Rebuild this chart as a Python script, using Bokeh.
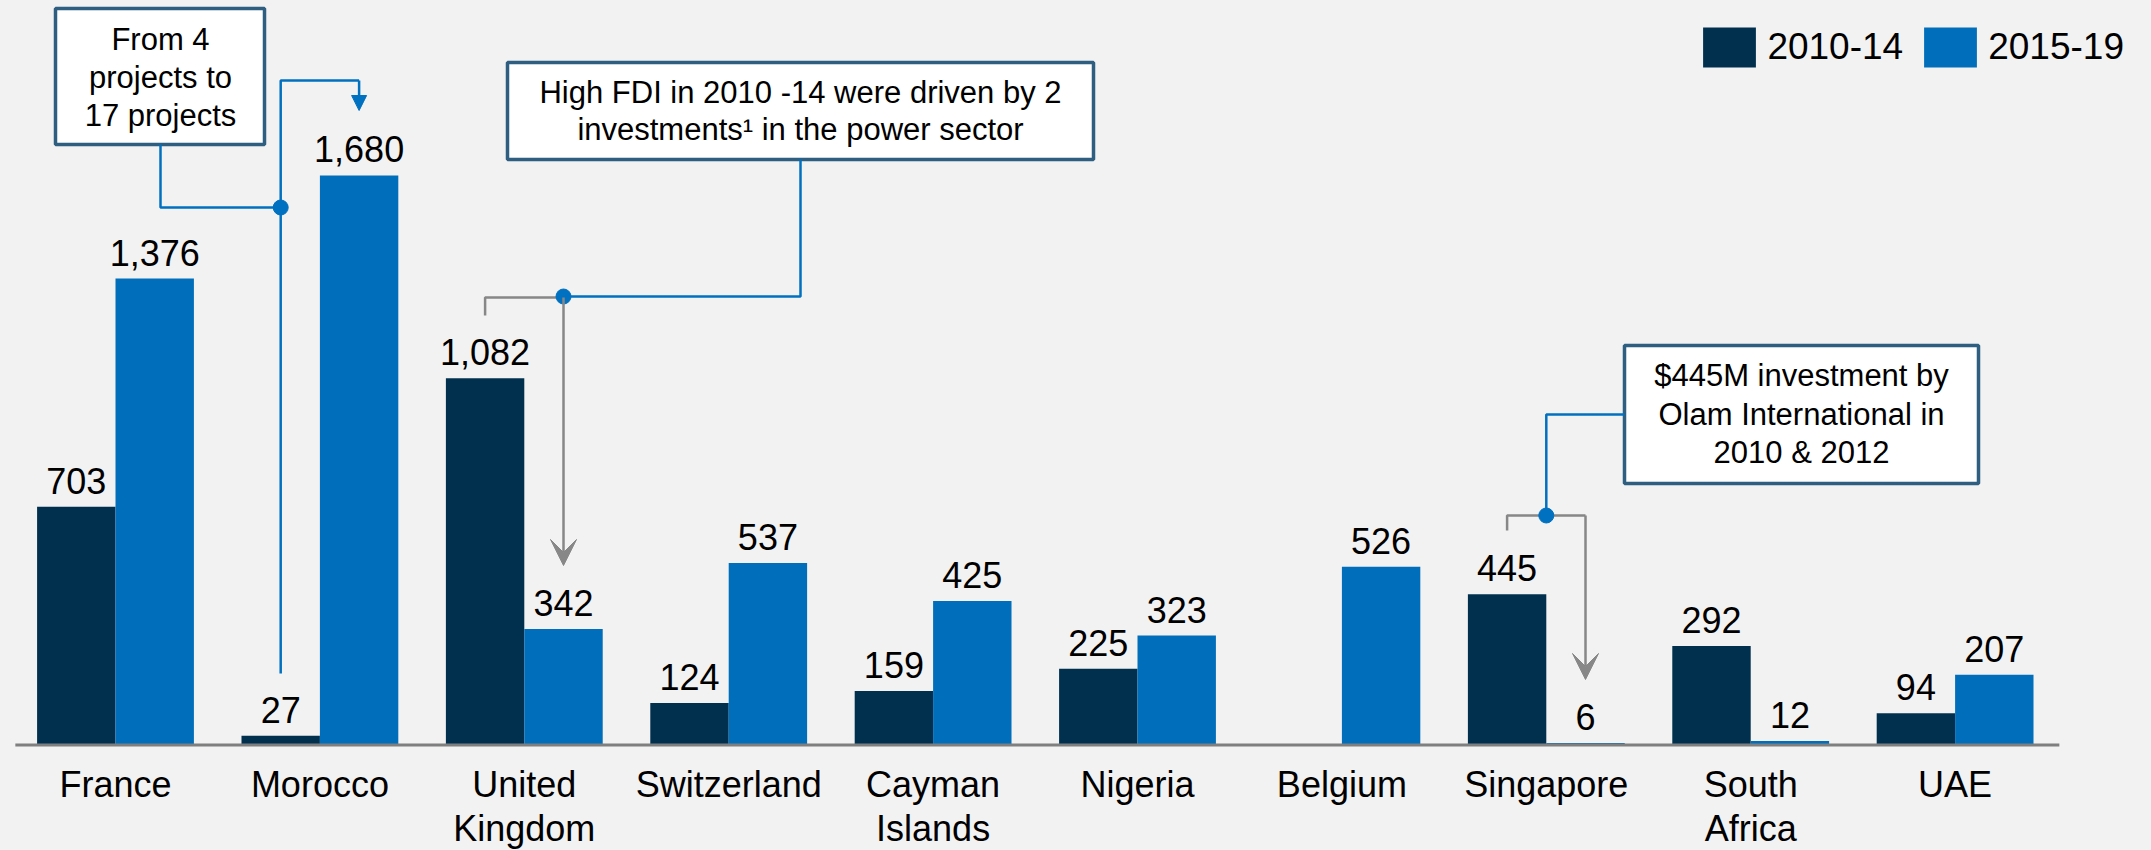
from bokeh.plotting import figure
from bokeh.models import Range1d, Arrow, NormalHead, VeeHead, Legend, LegendItem, ColumnDataSource
from bokeh.core.properties import value
from bokeh.embed import file_html
from bokeh.resources import INLINE

# ---------------- data ----------------
categories = ["France", "Morocco", "United\nKingdom", "Switzerland", "Cayman\nIslands",
              "Nigeria", "Belgium", "Singapore", "South\nAfrica", "UAE"]
series_names = ["2010-14", "2015-19"]
fdi_2010_14 = [703, 27, 1082, 124, 159, 225, None, 445, 292, 94]
fdi_2015_19 = [1376, 1680, 342, 537, 425, 323, 526, 6, 12, 207]

note_morocco = ["From 4", "projects to", "17 projects"]
note_uk = ["High FDI in 2010 -14 were driven by 2", "investments\u00b9 in the power sector"]
note_singapore = ["$445M investment by", "Olam International in", "2010 & 2012"]

# ---------------- style / layout ----------------
FONT = "Liberation Sans"
DARK = "#00304e"
BLUE = "#006eba"
LINE_BLUE = "#0070c0"
GRAY = "#878787"
BOX_LINE = "#2e5e80"
BG = "#f2f2f2"

W, H = 2151, 850
OFF = 0                 # page offset of the figure
PX_PER_CAT = 204.4      # screen px per category
X0_PX = 115.0           # screen px of first category centre
PX_PER_UNIT = 0.339     # screen px per $M
BASE_PX = 744.5         # screen px of the zero line
BW = 0.3836             # bar width (category units)
TXT = 11                # text baseline correction (px)


def sx(px):
    return (px - X0_PX) / PX_PER_CAT


def sy(py):
    return (BASE_PX - py) / PX_PER_UNIT


def ty(py):
    return sy(py - TXT)


p = figure(width=W, height=H, output_backend="svg", toolbar_location=None,
           x_axis_type=None, y_axis_type=None,
           x_range=Range1d(sx(OFF), sx(OFF + W)),
           y_range=Range1d(sy(OFF + H), sy(OFF)),
           min_border=0)
p.background_fill_color = BG
p.border_fill_color = BG
p.outline_line_color = None
p.grid.visible = False

n = len(categories)
idx = list(range(n))

# bars
d_idx = [i for i in idx if fdi_2010_14[i] is not None]
src_a = ColumnDataSource(dict(x=[i - BW / 2 for i in d_idx],
                              top=[fdi_2010_14[i] for i in d_idx],
                              lab=["{:,}".format(fdi_2010_14[i]) for i in d_idx]))
src_b = ColumnDataSource(dict(x=[i + BW / 2 for i in idx],
                              top=fdi_2015_19,
                              lab=["{:,}".format(v) for v in fdi_2015_19]))
r_a = p.vbar(x="x", top="top", bottom=0, width=BW, source=src_a, fill_color=DARK, line_color=None)
r_b = p.vbar(x="x", top="top", bottom=0, width=BW, source=src_b, fill_color=BLUE, line_color=None)

# value labels
GAP = (15 + TXT) / PX_PER_UNIT
for src in (src_a, src_b):
    src.data["ly"] = [t + GAP for t in src.data["top"]]
    p.text(x="x", y="ly", text="lab", source=src, text_align="center", text_baseline="alphabetic",
           text_font=value(FONT), text_font_size="36px", text_color="black")

# zero line
p.line(x=[-0.49, n - 0.49], y=[0, 0], line_color="#7f7f7f", line_width=3)

# category labels
line1 = [c.split("\n")[0] for c in categories]
line2 = [c.split("\n")[1] if "\n" in c else "" for c in categories]
p.text(x=idx, y=[ty(795)] * n, text=line1, text_align="center", text_baseline="alphabetic",
       text_font=value(FONT), text_font_size="36px", text_color="black")
p.text(x=idx, y=[ty(839)] * n, text=line2, text_align="center", text_baseline="alphabetic",
       text_font=value(FONT), text_font_size="36px", text_color="black")


def note_box(l, r, t, b, lines, cx, first_base, step):
    p.quad(left=[sx(l)], right=[sx(r)], top=[sy(t)], bottom=[sy(b)],
           fill_color="white", line_color=BOX_LINE, line_width=3.5)
    p.text(x=[sx(cx)] * len(lines), y=[ty(first_base + k * step) for k in range(len(lines))],
           text=lines, text_align="center", text_baseline="alphabetic",
           text_font=value(FONT), text_font_size="31px", text_color="black")


# --- Morocco callout ---
mor = categories.index("Morocco")
note_box(55, 264, 8, 144, note_morocco, 160, 50, 38)
p.line(x=[sx(160), sx(160), mor - BW / 2], y=[sy(144), sy(207), sy(207)], line_color=LINE_BLUE, line_width=2.5)
p.line(x=[mor - BW / 2, mor - BW / 2, mor + BW / 2], y=[sy(673), sy(80), sy(80)],
       line_color=LINE_BLUE, line_width=2.5)
p.add_layout(Arrow(end=NormalHead(size=15, fill_color=LINE_BLUE, line_color=LINE_BLUE),
                   x_start=mor + BW / 2, y_start=sy(80), x_end=mor + BW / 2, y_end=sy(110),
                   line_color=LINE_BLUE, line_width=2.5))
p.scatter(x=[mor - BW / 2], y=[sy(207)], size=15, color=LINE_BLUE)

# --- UK callout ---
uk = categories.index("United\nKingdom")
note_box(507, 1093, 62, 159, note_uk, 800, 103, 37)
p.line(x=[uk - BW / 2, uk - BW / 2, uk + BW / 2], y=[sy(315), sy(297), sy(297)], line_color=GRAY, line_width=2.5)
p.add_layout(Arrow(end=VeeHead(size=26, fill_color=GRAY, line_color=GRAY),
                   x_start=uk + BW / 2, y_start=sy(297), x_end=uk + BW / 2, y_end=sy(565),
                   line_color=GRAY, line_width=2.5))
p.line(x=[sx(800), sx(800), uk + BW / 2], y=[sy(159), sy(296), sy(296)], line_color=LINE_BLUE, line_width=2.5)
p.scatter(x=[uk + BW / 2], y=[sy(296)], size=15, color=LINE_BLUE)

# --- Singapore callout ---
sg = categories.index("Singapore")
note_box(1624, 1978, 345, 483, note_singapore, 1801, 386, 38.5)
p.line(x=[sg - BW / 2, sg - BW / 2, sg + BW / 2], y=[sy(530), sy(515), sy(515)], line_color=GRAY, line_width=2.5)
p.add_layout(Arrow(end=VeeHead(size=26, fill_color=GRAY, line_color=GRAY),
                   x_start=sg + BW / 2, y_start=sy(515), x_end=sg + BW / 2, y_end=sy(679),
                   line_color=GRAY, line_width=2.5))
p.line(x=[sx(1624), sg, sg], y=[sy(414), sy(414), sy(515)], line_color=LINE_BLUE, line_width=2.5)
p.scatter(x=[sg], y=[sy(515)], size=15, color=LINE_BLUE)

# legend (legend glyphs are drawn with a 10% inset)
GW, GH = 66, 50
legend = Legend(items=[LegendItem(label=series_names[0], renderers=[r_a]),
                       LegendItem(label=series_names[1], renderers=[r_b])],
                orientation="horizontal", location=(1703 - 6.6 - OFF, H - (22 - OFF) - GH),
                glyph_width=GW, glyph_height=GH, label_height=GH,
                label_text_font=FONT, label_text_font_size="37px", label_text_color="black",
                label_standoff=5, spacing=14, padding=0, margin=0,
                border_line_color=None, background_fill_alpha=0)
p.add_layout(legend, "center")

html = file_html(p, INLINE)
html = html.replace("</head>", "<style>html, body { background-color: #f2f2f2 !important; }</style></head>", 1)
open("out.html", "w").write(html)
